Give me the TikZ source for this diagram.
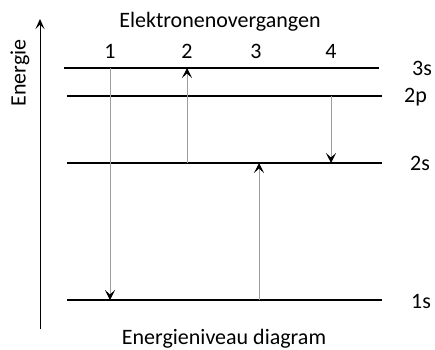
\documentclass[tikz,border=0pt]{standalone}
\usepackage{fontspec}
\setmainfont{Carlito}
\usetikzlibrary{arrows.meta}
\begin{document}
\begin{tikzpicture}[x=1pt,y=-1pt,
  level/.style={line width=1.9pt,black},
  trans/.style={line width=1pt,draw=black!38,-{Stealth[length=10pt,width=10pt,inset=4.5pt,black]}},
  lab/.style={font=\fontsize{22}{22}\selectfont,inner sep=0pt},
  num/.style={font=\fontsize{22}{22}\selectfont,inner sep=0pt}]
\useasboundingbox (0,0) rectangle (435,349);
% axis
\coordinate (axb) at (40,329);
\coordinate (axt) at (40,19);
\draw[line width=1pt,-{Stealth[length=10pt,width=9pt,inset=4.5pt]}] (axb) -- (axt);
\node[lab,rotate=90] (energie) at (20,73) {Energie};
\node[lab] (title) at (220,22) {Elektronenovergangen};
\node[lab] (bottom) at (224,339) {Energieniveau diagram};
% numbers
\node[num] (n1) at (110,51) {1};
\node[num] (n2) at (187,51) {2};
\node[num] (n3) at (256,51) {3};
\node[num] (n4) at (331,51) {4};
% levels
\coordinate (l3sA) at (64,68);  \coordinate (l3sB) at (379,68);
\coordinate (l2pA) at (67,96);  \coordinate (l2pB) at (382,96);
\coordinate (l2sA) at (67,163); \coordinate (l2sB) at (382,163);
\coordinate (l1sA) at (67,300); \coordinate (l1sB) at (382,300);
\draw[level] (l3sA) -- (l3sB);
\draw[level] (l2pA) -- (l2pB);
\draw[level] (l2sA) -- (l2sB);
\draw[level] (l1sA) -- (l1sB);
\node[lab,anchor=west] (s3) at (412,68) {3s};
\node[lab,anchor=west] (p2) at (404,97) {2p};
\node[lab,anchor=west] (s2) at (410,163) {2s};
\node[lab,anchor=west] (s1) at (411,301) {1s};
% transitions
\coordinate (t1a) at (110,68);  \coordinate (t1b) at (110,300);
\coordinate (t2a) at (187,163); \coordinate (t2b) at (187,68);
\coordinate (t3a) at (259,300); \coordinate (t3b) at (259,163);
\coordinate (t4a) at (331,96);  \coordinate (t4b) at (331,163);
\draw[trans] (t1a) -- (t1b);
\draw[trans] (t2a) -- (t2b);
\draw[trans] (t3a) -- (t3b);
\draw[trans] (t4a) -- (t4b);
\end{tikzpicture}
\end{document}
